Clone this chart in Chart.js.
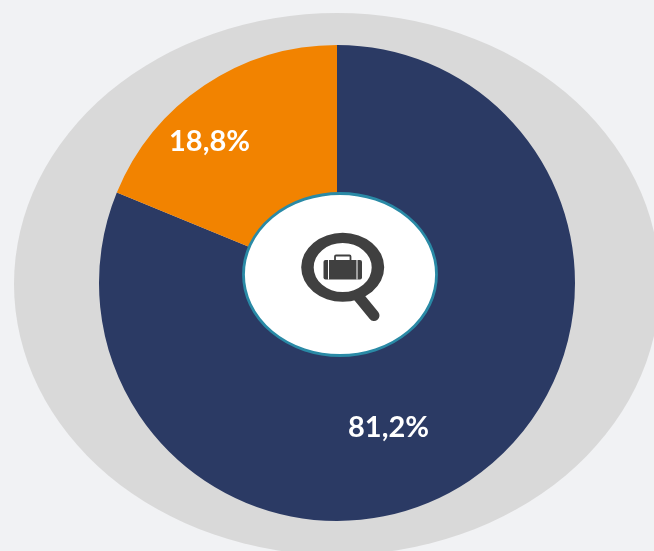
<!DOCTYPE html>
<html>
<head>
<meta charset="utf-8">
<style>
html,body{margin:0;padding:0;background:#f1f2f4;overflow:hidden}
canvas{display:block}
</style>
<script src="https://cdn.jsdelivr.net/npm/chart.js@4"></script>
</head>
<body>
<canvas id="c" width="654" height="551"></canvas>
<script>
const categories = ["Navy share", "Orange share"];
const values = [81.2, 18.8];
const sliceColors = ["#2b3a64", "#f28300"];

const decoration = {
  id: "decoration",
  beforeDatasetsDraw(chart) {
    const g = chart.ctx;
    g.save();
    g.fillStyle = "#d9d9d9";
    g.beginPath();
    g.ellipse(337, 284, 323, 271, 0, 0, Math.PI * 2);
    g.fill();
    g.restore();
  },
  afterDatasetsDraw(chart) {
    const g = chart.ctx;
    g.save();
    // centre disc
    g.fillStyle = "#ffffff";
    g.strokeStyle = "#2a8aa6";
    g.lineWidth = 2.8;
    g.beginPath();
    g.ellipse(340, 274.5, 96.5, 81, 0, 0, Math.PI * 2);
    g.fill();
    g.stroke();
    // magnifier handle
    g.strokeStyle = "#404040";
    g.lineCap = "round";
    g.lineWidth = 11;
    g.beginPath();
    g.moveTo(358, 296);
    g.lineTo(374, 315.5);
    g.stroke();
    // magnifier ring
    g.fillStyle = "#404040";
    g.beginPath();
    g.ellipse(342.7, 267.3, 41.5, 34.5, 0, 0, Math.PI * 2);
    g.ellipse(342.7, 267.5, 29, 24.5, 0, 0, Math.PI * 2, true);
    g.fill("evenodd");
    // case body
    g.beginPath();
    g.roundRect(323.5, 260, 38.5, 19.5, 2);
    g.fill();
    g.fillStyle = "#ffffff";
    g.fillRect(328, 260, 1, 19.5);
    g.fillRect(356.5, 260, 1, 19.5);
    // case handle
    g.strokeStyle = "#404040";
    g.lineWidth = 1.8;
    g.lineCap = "butt";
    g.beginPath();
    g.moveTo(335, 260);
    g.lineTo(335, 256.5);
    g.quadraticCurveTo(335, 255.5, 336, 255.5);
    g.lineTo(349.5, 255.5);
    g.quadraticCurveTo(350.5, 255.5, 350.5, 256.5);
    g.lineTo(350.5, 260);
    g.stroke();
    // percentage labels
    g.fillStyle = "#ffffff";
    g.font = "bold 29px Lato, Carlito, sans-serif";
    g.textAlign = "center";
    g.textBaseline = "middle";
    const spots = [[388.5, 428], [209.5, 141.5]];
    values.forEach((v, i) => {
      g.fillText(v.toFixed(1).replace(".", ",") + "%", spots[i][0], spots[i][1]);
    });
    g.restore();
  }
};

new Chart(document.getElementById("c"), {
  type: "pie",
  data: {
    labels: categories,
    datasets: [{
      data: values,
      backgroundColor: sliceColors,
      borderWidth: 0
    }]
  },
  options: {
    responsive: false,
    animation: false,
    layout: { padding: { left: 99, right: 79, top: 45, bottom: 30 } },
    plugins: { legend: { display: false }, tooltip: { enabled: false } }
  },
  plugins: [decoration]
});
</script>
</body>
</html>
